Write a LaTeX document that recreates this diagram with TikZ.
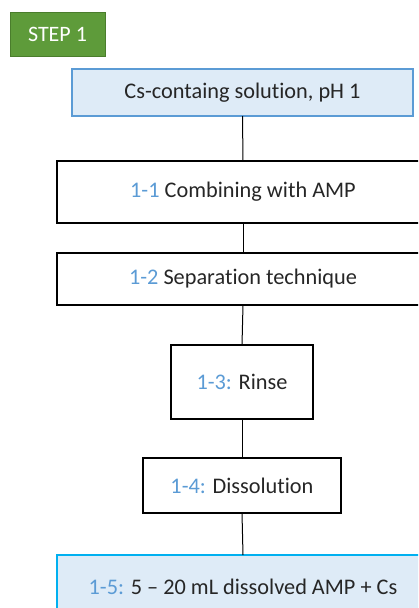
\documentclass[tikz,border=0pt]{standalone}
\usepackage{fontspec}
\setmainfont{Carlito}[Ligatures={NoCommon}]
\definecolor{stepgreen}{HTML}{5E9B3A}
\definecolor{stepedge}{HTML}{4A7D2C}
\definecolor{lightfill}{HTML}{DEEBF7}
\definecolor{blueedge}{HTML}{5B9BD5}
\definecolor{cyanedge}{HTML}{00B0F0}
\definecolor{numblue}{HTML}{5B9BD5}
\definecolor{txt}{HTML}{262626}
\newcommand{\nb}[1]{\textcolor{numblue}{#1}}
\begin{document}
\begin{tikzpicture}[x=1pt,y=-1pt,
  box/.style={draw=black,line width=2pt,rectangle,inner sep=0pt,outer sep=0pt,text=txt,font=\fontsize{22.3}{26}\selectfont},
  link/.style={draw=black,line width=1pt}]
\useasboundingbox (0,0) rectangle (418,608);
\clip (0,0) rectangle (418,608);
\node[rectangle,fill=stepgreen,draw=stepedge,line width=1pt,minimum width=95pt,minimum height=44pt,inner sep=0pt,text=white,font=\fontsize{22}{26}\selectfont] (step) at (57.5,34) {STEP 1};
\node[box,draw=blueedge,fill=lightfill,minimum width=341pt,minimum height=47pt] (cs) at (242.5,92.5) {Cs-containg solution, pH 1};
\node[box,minimum width=372pt,minimum height=62pt] (s11) at (243,192) {\nb{1-1} Combining with AMP};
\node[box,minimum width=372pt,minimum height=52pt] (s12) at (243,279) {\nb{1-2} Separation technique};
\node[box,minimum width=142pt,minimum height=74pt] (s13) at (242,382) {\nb{1-3:} Rinse};
\node[box,minimum width=198pt,minimum height=55pt] (s14) at (242,485.5) {\nb{1-4:} Dissolution};
\node[box,draw=cyanedge,fill=lightfill,minimum width=372pt,minimum height=64pt] (s15) at (243,587) {\nb{1-5:} 5 -- 20 mL dissolved AMP + Cs};
\draw[link] (cs.south) -- (s11.north);
\draw[link] (s11.south) -- (s12.north);
\draw[link] (s12.south) -- (s13.north);
\draw[link] (s13.south) -- (s14.north);
\draw[link] (s14.south) -- (s15.north);
\end{tikzpicture}
\end{document}
